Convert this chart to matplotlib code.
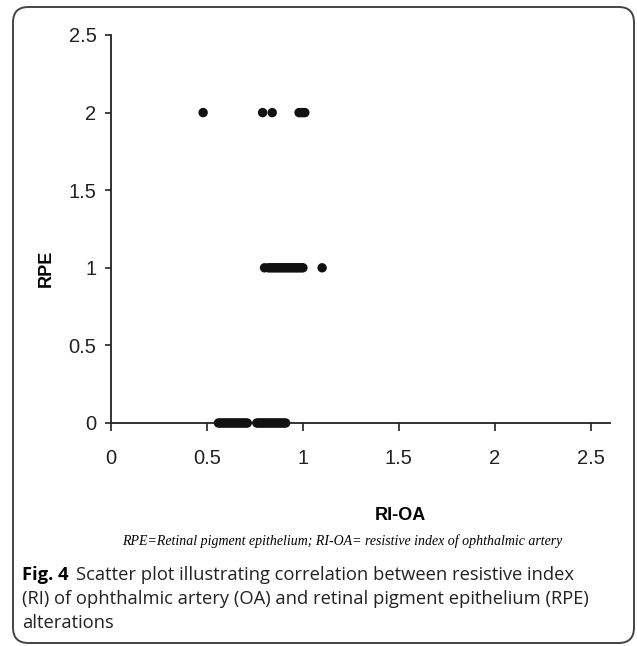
import matplotlib
matplotlib.use('Agg')
import matplotlib.pyplot as plt
from matplotlib.patches import FancyBboxPatch

# values (RI-OA vs RPE grade)
ri_oa_rpe0 = [0.56, 0.57, 0.58, 0.59, 0.60, 0.61, 0.62, 0.63, 0.64, 0.65, 0.66,
              0.67, 0.68, 0.69, 0.70, 0.71, 0.76, 0.77, 0.78, 0.79, 0.80, 0.81,
              0.82, 0.83, 0.84, 0.85, 0.86, 0.87, 0.88, 0.89, 0.90, 0.91]
ri_oa_rpe1 = [0.80, 0.82, 0.83, 0.84, 0.85, 0.86, 0.87, 0.88, 0.89, 0.90, 0.91,
              0.92, 0.93, 0.94, 0.95, 0.96, 0.97, 0.98, 0.99, 1.00, 1.10]
ri_oa_rpe2 = [0.48, 0.79, 0.84, 0.98, 0.99, 1.00, 1.01]

tick_vals = [0, 0.5, 1, 1.5, 2, 2.5]
tick_labels = ['0', '0.5', '1', '1.5', '2', '2.5']

note = 'RPE=Retinal pigment epithelium; RI-OA= resistive index of ophthalmic artery'
fig_label = 'Fig. 4'
caption = ['Scatter plot illustrating correlation between resistive index',
           '(RI) of ophthalmic artery (OA) and retinal pigment epithelium (RPE)',
           'alterations']

W, H = 637, 646
def fx(x):
    return x / W
def fy(y):
    return 1 - y / H

fig = plt.figure(figsize=(W / 100, H / 100), dpi=100)
ax = fig.add_axes([fx(111), fy(423), (610 - 111) / W, (423 - 35) / H])

for xs, grade in [(ri_oa_rpe0, 0), (ri_oa_rpe1, 1), (ri_oa_rpe2, 2)]:
    ax.scatter(xs, [grade] * len(xs), s=46, c='#111111', edgecolors='none',
               clip_on=False, zorder=3)

ax.set_xlim(0, 2.6)
ax.set_ylim(0, 2.5)
ax.spines[['top', 'right']].set_visible(False)
for s in ['left', 'bottom']:
    ax.spines[s].set_linewidth(1.3)
    ax.spines[s].set_color('#222222')

tick_font = dict(family=['Liberation Sans', 'DejaVu Sans'], size=14.5)
ax.set_xticks(tick_vals)
ax.set_xticklabels(tick_labels, **tick_font)
ax.set_yticks(tick_vals)
ax.set_yticklabels(tick_labels, **tick_font)
ax.tick_params(axis='x', direction='out', length=6, width=1.2, pad=13, colors='#222222')
ax.tick_params(axis='y', direction='out', length=4.5, width=1.2, pad=6, colors='#222222')

# axis titles
fig.text(fx(46), fy(268), 'RPE', rotation=90, ha='center', va='center',
         fontsize=13, fontweight='bold', family=['Liberation Sans', 'DejaVu Sans'])
fig.text(fx(400), fy(515), 'RI-OA', ha='center', va='center',
         fontsize=13, fontweight='bold', family=['Liberation Sans', 'DejaVu Sans'])

# italic footnote
fig.text(fx(342), fy(541), note, ha='center', va='center', fontsize=10,
         style='italic', family=['Liberation Serif', 'DejaVu Serif'])

# figure caption, bold "Fig. 4" then normal text
cap_font = ['Open Sans', 'DejaVu Sans']
cap_size = 13.2
t0 = fig.text(fx(22), fy(580), fig_label, ha='left', va='baseline', fontsize=cap_size,
              fontweight='bold', family=cap_font)
fig.canvas.draw()
bb = t0.get_window_extent(fig.canvas.get_renderer())
fig.text((bb.x1 + 8) / W, fy(580), caption[0], ha='left', va='baseline',
         fontsize=cap_size, family=cap_font, color='#222222')
fig.text(fx(22), fy(604), caption[1], ha='left', va='baseline',
         fontsize=cap_size, family=cap_font, color='#222222')
fig.text(fx(22), fy(628), caption[2], ha='left', va='baseline',
         fontsize=cap_size, family=cap_font, color='#222222')

# rounded frame around the whole figure
frame = FancyBboxPatch((fx(13), fy(643)), (634 - 13) / W, (643 - 7) / H,
                       boxstyle='round,pad=0,rounding_size=0.024',
                       transform=fig.transFigure, fill=False, ec='#444444', lw=1.4)
fig.patches.append(frame)

fig.savefig('out.png', dpi=100)
